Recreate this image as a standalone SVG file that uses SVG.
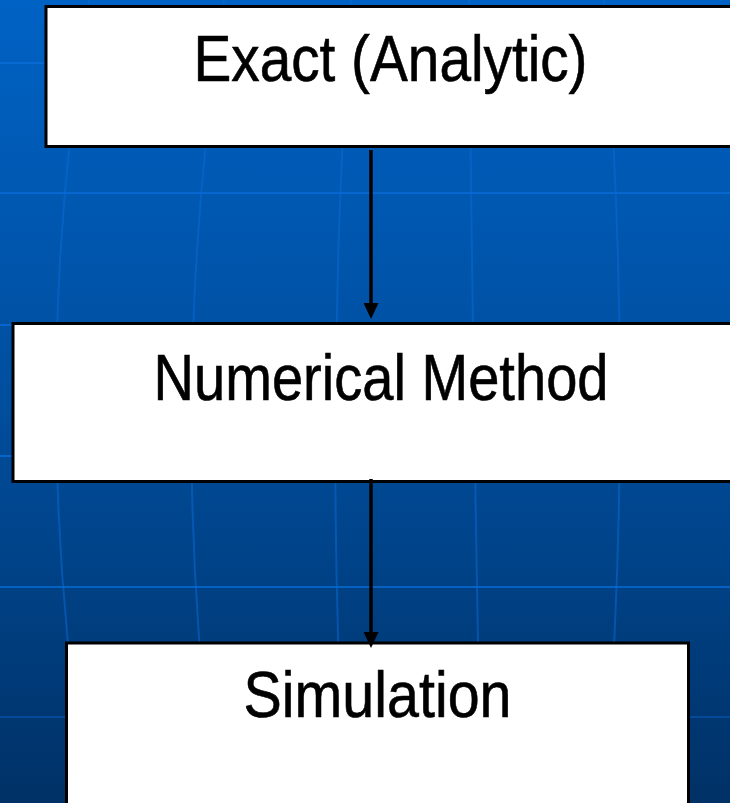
<svg xmlns="http://www.w3.org/2000/svg" width="730" height="803" viewBox="0 0 730 803">
  <defs>
    <linearGradient id="bg" x1="0" y1="0" x2="0" y2="1">
      <stop offset="0" stop-color="#0062c4"/>
      <stop offset="0.5" stop-color="#004e9e"/>
      <stop offset="1" stop-color="#003166"/>
    </linearGradient>
    <marker id="arrow" viewBox="0 0 16 15" refX="7" refY="7.5" markerWidth="16" markerHeight="15" markerUnits="userSpaceOnUse" orient="auto">
      <path d="M0,0 L16,7.5 L0,15 z" fill="#000"/>
    </marker>
  </defs>
  <style>
    .grid { fill: none; stroke: #0a6cd8; stroke-width: 2; opacity: 0.75; }
    .vgrid { fill: none; stroke: #0a6cd8; stroke-width: 2; opacity: 0.5; }
    .box { fill: #ffffff; stroke: #000000; stroke-width: 3; }
    .label { font-family: "Liberation Sans Narrow", "Liberation Sans", Arial, sans-serif; font-size: 64px; fill: #000000; stroke: #000000; stroke-width: 0.6; text-anchor: middle; }
    .conn { fill: none; stroke: #000000; stroke-width: 3.5; }
  </style>

  <g id="background">
    <rect x="0" y="0" width="730" height="803" fill="url(#bg)"/>
    <g class="grid">
      <line x1="0" y1="63" x2="730" y2="63"/>
      <line x1="0" y1="193" x2="730" y2="193"/>
      <line x1="0" y1="325" x2="730" y2="325"/>
      <line x1="0" y1="456" x2="730" y2="456"/>
      <line x1="0" y1="587" x2="730" y2="587"/>
      <line x1="0" y1="717" x2="730" y2="717" opacity="0.5"/>
    </g>
    <g class="vgrid">
      <path d="M89 0 Q23 400 89 803"/>
      <path d="M224 0 Q163 400 216 803"/>
      <path d="M351 0 Q323 400 345 803"/>
      <path d="M469 0 Q473 400 481 803"/>
      <path d="M604 0 Q636 400 604 803"/>
    </g>
  </g>

  <g id="node-exact">
    <rect class="box" x="46" y="6.5" width="700" height="140"/>
    <text class="label" x="390.5" y="81" textLength="394" lengthAdjust="spacingAndGlyphs">Exact (Analytic)</text>
  </g>

  <g id="node-numerical">
    <rect class="box" x="13" y="323.5" width="740" height="158"/>
    <text class="label" x="381" y="400" textLength="455" lengthAdjust="spacingAndGlyphs">Numerical Method</text>
  </g>

  <g id="node-simulation">
    <rect class="box" x="66.5" y="643" width="622" height="200"/>
    <text class="label" x="377.5" y="717" textLength="268" lengthAdjust="spacingAndGlyphs">Simulation</text>
  </g>

  <g id="connectors">
    <path class="conn" d="M371 150 L371 310" marker-end="url(#arrow)"/>
    <path class="conn" d="M371 479 L371 639" marker-end="url(#arrow)"/>
  </g>
</svg>
